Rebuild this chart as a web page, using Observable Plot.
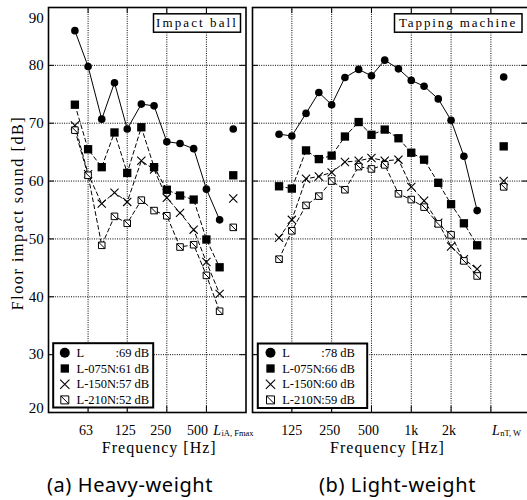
<!DOCTYPE html>
<html><head><meta charset="utf-8">
<script src="https://cdn.jsdelivr.net/npm/d3@7"></script>
<script src="https://cdn.jsdelivr.net/npm/@observablehq/plot@0.6"></script>
<style>
html,body{margin:0;padding:0;background:#fff;overflow:hidden;}
#wrap{position:relative;width:527px;height:500px;overflow:hidden;background:#fff;}
.panel{position:absolute;top:0;}
.cap{position:absolute;top:471px;font-family:"Noto Sans","Noto Sans CJK KR",sans-serif;font-size:20px;color:#000;transform:translateX(-50%);white-space:nowrap;letter-spacing:0.6px;}
</style></head><body>
<div id="wrap"></div>
<script>
// ---------- data ----------
const seriesNames = ["L", "L-075N", "L-150N", "L-210N"];
const yGrid = [30, 40, 50, 60, 70, 80];
const yTicks = [20, 30, 40, 50, 60, 70, 80, 90];

// (a) Heavy-weight impact source (impact ball), 1/3-octave bands
const heavyFreq = [50, 63, 80, 100, 125, 160, 200, 250, 315, 400, 500, 630];
const heavyL    = [86.0, 79.8, 70.7, 77.0, 69.0, 73.3, 73.0, 66.8, 66.5, 65.6, 58.6, 53.3];
const heavyL075 = [73.2, 65.5, 62.4, 68.4, 61.4, 69.3, 62.4, 58.5, 57.5, 56.8, 49.9, 45.1];
const heavyL150 = [69.6, 61.2, 56.1, 58.0, 56.4, 63.5, 62.0, 57.1, 54.5, 51.6, 46.0, 40.5];
const heavyL210 = [68.8, 61.0, 48.9, 53.9, 52.7, 56.7, 54.9, 54.0, 48.6, 49.0, 43.7, 37.5];
const heavySingle = [69, 61, 57, 52];          // L_iA,Fmax
const heavyGrid = [63, 125, 250, 500];
const heavyTickLabels = ["63", "125", "250", "500"];

// (b) Light-weight impact source (tapping machine)
const lightFreq = [100, 125, 160, 200, 250, 315, 400, 500, 630, 800, 1000, 1250, 1600, 2000, 2500, 3150];
const lightL    = [68.1, 67.8, 71.7, 75.3, 73.2, 77.9, 79.3, 78.2, 80.9, 79.4, 77.4, 76.4, 74.2, 70.5, 64.3, 54.9];
const lightL075 = [59.1, 58.7, 65.3, 63.8, 64.4, 67.7, 70.2, 68.0, 68.9, 67.4, 64.9, 63.7, 59.7, 56.0, 52.7, 48.9];
const lightL150 = [50.2, 53.3, 60.4, 60.8, 61.5, 63.3, 63.5, 64.0, 63.5, 63.7, 59.0, 56.6, 52.8, 48.7, 46.5, 44.8];
const lightL210 = [46.5, 51.4, 55.8, 57.4, 60.0, 58.5, 62.5, 62.1, 62.8, 57.8, 56.8, 55.5, 52.6, 50.7, 46.2, 43.6];
const lightSingle = [78, 66, 60, 59];          // L_nT,w
const lightGrid = [125, 250, 500, 1000, 2000, 4000];
const lightTickFreq = [125, 250, 500, 1000, 2000];
const lightTickLabels = ["125", "250", "500", "1k", "2k"];

// ---------- drawing ----------
const SERIF = "'Liberation Serif','Times New Roman',serif";
const hatched = {
  draw(ctx, size) {
    const w = Math.sqrt(size) / 2;
    ctx.moveTo(-w, -w); ctx.lineTo(w, -w); ctx.lineTo(w, w); ctx.lineTo(-w, w); ctx.closePath();
    ctx.moveTo(-w, -w); ctx.lineTo(w, w);
  }
};
function sym(k, r) {
  if (k === 0) return {symbol: "circle", r, fill: "#000"};
  if (k === 1) return {symbol: "square", r, fill: "#000"};
  if (k === 2) return {symbol: "times", r, stroke: "#000", strokeWidth: 1.1};
  return {symbol: hatched, r, fill: "#fff", stroke: "#000", strokeWidth: 1};
}
const dotR = [3.8, 4.7, 3.8, 3.7];
const legR = [5, 4.7, 4.3, 4.5];
const rowDy = [-59.7, -44, -28.3, -12.6];
const T = {fill: "#000", lineAnchor: "middle"};

function makePanel(cfg) {
  const fw = cfg.width - cfg.marginLeft - cfg.marginRight;
  const fh = 405;
  const dotted = {stroke: "#000", strokeWidth: 1, strokeDasharray: "1,1.3"};
  const marks = [];
  marks.push(Plot.ruleY(yGrid, {y: d => d, ...dotted}));
  marks.push(Plot.ruleX(cfg.grid, {x: d => d, ...dotted}));
  cfg.series.forEach((vals, k) => {
    const data = cfg.freq.map((f, i) => ({f, v: vals[i]}));
    const o = {x: "f", y: "v", stroke: "#000", strokeWidth: 1};
    if (k > 0) o.strokeDasharray = "4,3";
    marks.push(Plot.line(data, o));
  });
  cfg.series.forEach((vals, k) => {
    const data = cfg.freq.map((f, i) => ({f, v: vals[i]}));
    data.push({f: cfg.singlePos, v: cfg.single[k]});
    marks.push(Plot.dot(data, {x: "f", y: "v", ...sym(k, dotR[k])}));
  });
  // inward ticks
  marks.push(Plot.ruleY(yTicks, {y: d => d, insetRight: fw - 6, stroke: "#000"}));
  marks.push(Plot.ruleY(yTicks, {y: d => d, insetLeft: fw - 6, stroke: "#000"}));
  marks.push(Plot.ruleX(cfg.grid, {x: d => d, insetBottom: fh - 6, stroke: "#000"}));
  marks.push(Plot.ruleX(cfg.grid, {x: d => d, insetTop: fh - 6, stroke: "#000"}));
  marks.push(Plot.frame({stroke: "#000", strokeWidth: 1.6}));
  // title box
  const tb = cfg.titleBox;
  marks.push(Plot.frame({insetLeft: tb.l, insetRight: tb.r, insetTop: 6.3, insetBottom: 380.3, fill: "#fff", stroke: "#000", strokeWidth: 1.5}));
  marks.push(Plot.text([cfg.title], {text: d => d, frameAnchor: "top-right", dx: tb.tx, dy: 15.8, textAnchor: "middle", fontSize: 13, ...T}));
  // legend
  const lb = cfg.legendBox;
  marks.push(Plot.frame({insetLeft: lb.l, insetRight: lb.r, insetTop: lb.t, insetBottom: lb.b, fill: "#fff", stroke: "#000", strokeWidth: 2}));
  seriesNames.forEach((name, k) => {
    marks.push(Plot.dot([0], {frameAnchor: "bottom-left", dx: lb.mx, dy: rowDy[k], ...sym(k, legR[k])}));
    marks.push(Plot.text([name], {text: d => d, frameAnchor: "bottom-left", dx: lb.tx, dy: rowDy[k], textAnchor: "start", fontSize: 12.5, ...T}));
    marks.push(Plot.text([":" + cfg.single[k] + " dB"], {text: d => d, frameAnchor: "bottom-left", dx: lb.tx + 39, dy: rowDy[k], textAnchor: "start", fontSize: 12.5, ...T}));
  });
  // x tick labels (one text mark per label so each can take its own nudge)
  cfg.tickFreq.forEach((f, i) => {
    marks.push(Plot.text([f], {x: d => d, text: () => cfg.tickLabels[i], frameAnchor: "bottom", dy: 18, dx: cfg.tickDx[i], textAnchor: "middle", fontSize: 14, ...T}));
  });
  marks.push(Plot.text([cfg.singlePos], {x: d => d, text: () => "L", frameAnchor: "bottom", dy: 18, dx: cfg.singleDx, textAnchor: "end", fontStyle: "italic", fontSize: 14, ...T}));
  marks.push(Plot.text([cfg.singlePos], {x: d => d, text: () => cfg.singleSub, frameAnchor: "bottom", dy: 20.5, dx: cfg.singleDx + 0.5, textAnchor: "start", fontSize: 8.5, ...T}));
  marks.push(Plot.text(["Frequency [Hz]"], {text: d => d, frameAnchor: "bottom", dy: 35, dx: cfg.labelDx, textAnchor: "middle", fontSize: 16, ...T}));
  if (cfg.yLabels) {
    marks.push(Plot.text(yGrid, {y: d => d, text: d => String(d), frameAnchor: "left", dx: -4.7, textAnchor: "end", fontSize: 15, ...T}));
    marks.push(Plot.text([90], {y: d => d, text: d => String(d), frameAnchor: "left", dx: -4.7, dy: 11, textAnchor: "end", fontSize: 15, ...T}));
    marks.push(Plot.text([20], {y: d => d, text: d => String(d), frameAnchor: "left", dx: -4.7, dy: -4, textAnchor: "end", fontSize: 15, ...T}));
    marks.push(Plot.text(["Floor impact sound [dB]"], {text: d => d, frameAnchor: "left", dx: -30.5, dy: 3, rotate: -90, textAnchor: "middle", fontSize: 16, ...T}));
  }
  const svg = Plot.plot({
    width: cfg.width, height: 460,
    marginLeft: cfg.marginLeft, marginRight: cfg.marginRight, marginTop: 7, marginBottom: 48,
    x: {type: "log", domain: cfg.domain, axis: null},
    y: {domain: [20, 90], axis: null},
    style: {fontFamily: SERIF, background: "transparent", color: "#000", overflow: "visible"},
    marks
  });
  const spacing = {"Frequency [Hz]": "1px", "Floor impact sound [dB]": "1.6px", "Impact ball": "2.1px", "Tapping machine": "1.9px"};
  svg.querySelectorAll("text").forEach(t => {
    const s = spacing[t.textContent];
    if (s) t.style.letterSpacing = s;
  });
  svg.classList.add("panel");
  svg.style.left = cfg.left + "px";
  return svg;
}

const wrap = document.getElementById("wrap");
wrap.appendChild(makePanel({
  left: 0, width: 248, marginLeft: 48, marginRight: 2.5, domain: [31.5, 1000],
  freq: heavyFreq, series: [heavyL, heavyL075, heavyL150, heavyL210], single: heavySingle,
  singlePos: 800, singleSub: "iA, Fmax", singleDx: -12.3,
  grid: heavyGrid, tickFreq: heavyGrid, tickLabels: heavyTickLabels, tickDx: [-2, -2, -6, -9],
  title: "Impact ball", titleBox: {l: 105, r: 5.5, tx: -49},
  legendBox: {l: 4.7, r: 92.8, t: 335.7, b: 5, mx: 16.3, tx: 28},
  labelDx: 12, yLabels: true
}));
wrap.appendChild(makePanel({
  left: 248, width: 282, marginLeft: 4, marginRight: 2, domain: [63, 7700],
  freq: lightFreq, series: [lightL, lightL075, lightL150, lightL210], single: lightSingle,
  singlePos: 5000, singleSub: "nT, W", singleDx: -4,
  grid: lightGrid, tickFreq: lightTickFreq, tickLabels: lightTickLabels, tickDx: [0, -2, -3, 0, -2],
  title: "Tapping machine", titleBox: {l: 142, r: 6.5, tx: -70.5},
  legendBox: {l: 5.3, r: 161.3, t: 336, b: 4.5, mx: 18, tx: 29.7},
  labelDx: -3, yLabels: false
}));
const captions = [["(a) Heavy-weight", 130], ["(b) Light-weight", 397.5]];
captions.forEach(([t, x]) => {
  const d = document.createElement("div");
  d.className = "cap"; d.textContent = t; d.style.left = x + "px";
  wrap.appendChild(d);
});
</script>
</body></html>
